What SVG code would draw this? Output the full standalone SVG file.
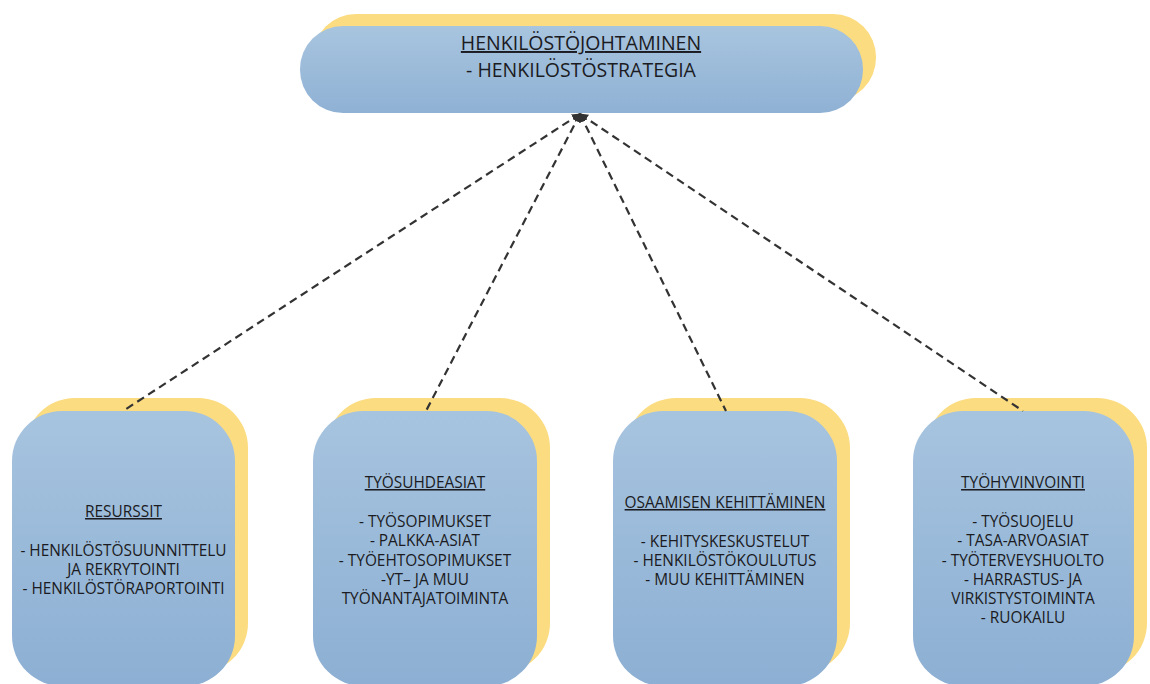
<svg xmlns="http://www.w3.org/2000/svg" width="1150" height="684" viewBox="0 0 1150 684">
<defs>
<linearGradient id="blueTop" x1="0" y1="0" x2="0" y2="1">
<stop offset="0" stop-color="#a8c5df"/>
<stop offset="1" stop-color="#8fb1d4"/>
</linearGradient>
<linearGradient id="blueBox" x1="0" y1="0" x2="0" y2="1">
<stop offset="0" stop-color="#a7c4df"/>
<stop offset="1" stop-color="#8cafd3"/>
</linearGradient>
<marker id="arr" viewBox="0 0 10 10" refX="9" refY="5" markerWidth="4" markerHeight="4" orient="auto-start-reverse" markerUnits="strokeWidth">
<path d="M0,0 L10,5 L0,10 z" fill="#333"/>
</marker>
<style>
.shadow{fill:#fcdc80}
.box{fill:url(#blueBox)}
.pill{fill:url(#blueTop)}
.t{font-family:"Open Sans","Noto Sans","DejaVu Sans",sans-serif;fill:#1b1b22;text-anchor:middle}
.tt{font-size:19.5px}
.bt{font-size:15.4px}
.u{text-decoration:underline}
.conn{stroke:#333;stroke-width:2.2;stroke-dasharray:8 5;fill:none}
</style>
</defs>
<rect width="1150" height="684" fill="#ffffff"/>

<g id="node-top">
<rect class="shadow" x="313" y="14" width="563" height="87" rx="43"/>
<rect class="pill" x="300" y="26" width="563" height="87" rx="43"/>
<text class="t tt u" x="581" y="50">HENKILÖSTÖJOHTAMINEN</text>
<text class="t tt" x="581" y="77">- HENKILÖSTÖSTRATEGIA</text>
</g>

<g id="node-resurssit">
<rect class="shadow" x="25" y="398" width="223" height="275" rx="50"/>
<rect class="box" x="12" y="411" width="223" height="275" rx="50"/>
<text class="t bt u" x="123.5" y="517">RESURSSIT</text>
<text class="t bt" x="123.5" y="556">- HENKILÖSTÖSUUNNITTELU</text>
<text class="t bt" x="123.5" y="575">JA REKRYTOINTI</text>
<text class="t bt" x="123.5" y="594">- HENKILÖSTÖRAPORTOINTI</text>
</g>

<g id="node-tyosuhdeasiat">
<rect class="shadow" x="326" y="398" width="224" height="275" rx="50"/>
<rect class="box" x="313" y="411" width="224" height="275" rx="50"/>
<text class="t bt u" x="425" y="488">TYÖSUHDEASIAT</text>
<text class="t bt" x="425" y="527">- TYÖSOPIMUKSET</text>
<text class="t bt" x="425" y="546">- PALKKA-ASIAT</text>
<text class="t bt" x="425" y="566">- TYÖEHTOSOPIMUKSET</text>
<text class="t bt" x="425" y="585">-YT– JA MUU</text>
<text class="t bt" x="425" y="604">TYÖNANTAJATOIMINTA</text>
</g>

<g id="node-osaaminen">
<rect class="shadow" x="626" y="398" width="224" height="275" rx="50"/>
<rect class="box" x="613" y="411" width="224" height="275" rx="50"/>
<text class="t bt u" x="725" y="508">OSAAMISEN KEHITTÄMINEN</text>
<text class="t bt" x="725" y="547">- KEHITYSKESKUSTELUT</text>
<text class="t bt" x="725" y="566">- HENKILÖSTÖKOULUTUS</text>
<text class="t bt" x="725" y="585">- MUU KEHITTÄMINEN</text>
</g>

<g id="node-tyohyvinvointi">
<rect class="shadow" x="926" y="398" width="221" height="275" rx="50"/>
<rect class="box" x="913" y="411" width="221" height="275" rx="50"/>
<text class="t bt u" x="1023" y="488">TYÖHYVINVOINTI</text>
<text class="t bt" x="1023" y="527">- TYÖSUOJELU</text>
<text class="t bt" x="1023" y="546">- TASA-ARVOASIAT</text>
<text class="t bt" x="1023" y="566">- TYÖTERVEYSHUOLTO</text>
<text class="t bt" x="1023" y="585">- HARRASTUS- JA</text>
<text class="t bt" x="1023" y="604">VIRKISTYSTOIMINTA</text>
<text class="t bt" x="1023" y="623">- RUOKAILU</text>
</g>

<g id="connectors">
<line class="conn" x1="580" y1="114" x2="123" y2="411" marker-start="url(#arr)"/>
<line class="conn" x1="580" y1="114" x2="426" y2="411" marker-start="url(#arr)"/>
<line class="conn" x1="580" y1="114" x2="726" y2="411" marker-start="url(#arr)"/>
<line class="conn" x1="580" y1="114" x2="1023" y2="411" marker-start="url(#arr)"/>
</g>
</svg>
